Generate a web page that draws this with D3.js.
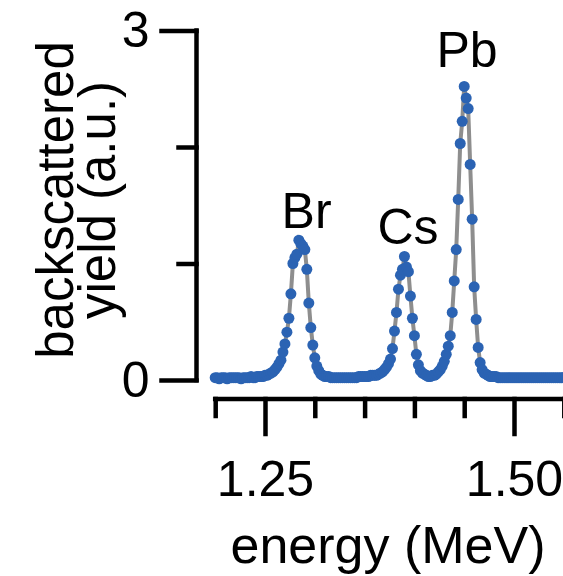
<!DOCTYPE html>
<html>
<head>
<meta charset="utf-8">
<script src="https://cdn.jsdelivr.net/npm/d3@7"></script>
<style>
  body { margin: 0; background: #fff; }
  text { font-family: "Liberation Sans", Arial, Helvetica, sans-serif; fill: #000; }
</style>
</head>
<body>
<svg id="rbs" width="563" height="576"></svg>
<script>
// measured spectrum (energy in MeV, yield in a.u.)
const energy = [
  1.200,1.202,1.204,1.206,1.208,1.210,1.212,1.214,1.216,1.218,
  1.220,1.222,1.224,1.226,1.228,1.230,1.232,1.234,1.236,1.238,
  1.240,1.242,1.244,1.246,1.248,1.250,1.252,1.254,1.256,1.258,
  1.260,1.262,1.264,1.266,1.268,1.270,1.272,1.274,1.276,1.278,
  1.280,1.282,1.284,1.286,1.288,1.290,1.292,1.294,1.296,1.298,
  1.300,1.302,1.304,1.306,1.308,1.310,1.312,1.314,1.316,1.318,
  1.320,1.322,1.324,1.326,1.328,1.330,1.332,1.334,1.336,1.338,
  1.340,1.342,1.344,1.346,1.348,1.350,1.352,1.354,1.356,1.358,
  1.360,1.362,1.364,1.366,1.368,1.370,1.372,1.374,1.376,1.378,
  1.380,1.382,1.384,1.386,1.388,1.390,1.392,1.394,1.396,1.398,
  1.400,1.402,1.404,1.406,1.408,1.410,1.412,1.414,1.416,1.418,
  1.420,1.422,1.424,1.426,1.428,1.430,1.432,1.434,1.436,1.438,
  1.440,1.442,1.444,1.446,1.448,1.450,1.452,1.454,1.456,1.458,
  1.460,1.462,1.464,1.466,1.468,1.470,1.472,1.474,1.476,1.478,
  1.480,1.482,1.484,1.486,1.488,1.490,1.492,1.494,1.496,1.498,
  1.500,1.502,1.504,1.506,1.508,1.510,1.512,1.514,1.516,1.518,
  1.520,1.522,1.524,1.526,1.528,1.530,1.532,1.534,1.536,1.538,
  1.540,1.542,1.544,1.546,1.548,1.550
];
const yieldAU = [
  0.02,0.02,0.01,0.02,0.02,0.02,0.01,0.02,0.02,0.02,
  0.02,0.02,0.02,0.01,0.02,0.02,0.02,0.02,0.03,0.02,
  0.02,0.03,0.03,0.03,0.03,0.04,0.04,0.05,0.06,0.07,
  0.09,0.11,0.14,0.17,0.24,0.31,0.41,0.53,0.74,1.00,
  1.05,1.08,1.20,1.17,1.15,1.12,0.95,0.66,0.45,0.30,
  0.19,0.12,0.08,0.05,0.04,0.03,0.03,0.03,0.02,0.02,
  0.02,0.02,0.02,0.02,0.02,0.02,0.02,0.02,0.02,0.02,
  0.02,0.02,0.03,0.03,0.03,0.03,0.03,0.03,0.04,0.04,
  0.04,0.04,0.05,0.06,0.07,0.09,0.11,0.14,0.18,0.27,
  0.42,0.58,0.78,0.90,0.95,1.06,0.97,0.93,0.72,0.53,
  0.38,0.22,0.13,0.08,0.06,0.05,0.04,0.03,0.03,0.04,
  0.04,0.05,0.07,0.09,0.12,0.16,0.22,0.29,0.38,0.58,
  0.85,1.12,1.55,2.03,2.22,2.52,2.42,2.33,1.85,1.38,
  0.80,0.52,0.28,0.15,0.09,0.06,0.05,0.04,0.03,0.03,
  0.03,0.03,0.02,0.02,0.02,0.02,0.02,0.02,0.02,0.02,
  0.02,0.02,0.02,0.02,0.02,0.02,0.02,0.02,0.02,0.02,
  0.02,0.02,0.02,0.02,0.02,0.02,0.02,0.02,0.02,0.02,
  0.02,0.02,0.02,0.02,0.02,0.02
];

// peak labels
const peakNames = ["Br", "Cs", "Pb"];
const peakEnergy = [1.2917, 1.3936, 1.4528];
const peakYield = [1.305, 1.167, 2.687];

const yMajor = [0, 3];
const yMinor = [1, 2];
const xMajor = [1.25, 1.50];
const xMinor = [1.20, 1.30, 1.35, 1.40, 1.45, 1.55];

const svg = d3.select("#rbs");

const x = d3.scaleLinear().domain([1.20, 1.55]).range([215.2, 563.8]);
const y = d3.scaleLinear().domain([0, 3]).range([380, 30.5]);

const data = energy.map((e, i) => ({e: e, v: yieldAU[i]}));

// gray connecting line
svg.append("path")
  .datum(data)
  .attr("fill", "none")
  .attr("stroke", "#8e8e8e")
  .attr("stroke-width", 4)
  .attr("d", d3.line().x(d => x(d.e)).y(d => y(d.v)));

// data points
svg.append("g")
  .selectAll("circle")
  .data(data)
  .join("circle")
  .attr("cx", d => x(d.e))
  .attr("cy", d => y(d.v))
  .attr("r", 5.5)
  .attr("fill", "#2b63b3");

//
// y axis
//
const yAxisX = 196.5;
const yAx = svg.append("g").attr("transform", `translate(${yAxisX},0)`);
yAx.append("g")
  .call(d3.axisLeft(y).tickValues(yMajor).tickSize(35).tickSizeOuter(0).tickPadding(12).tickFormat(d3.format("d")))
  .call(g => g.select(".domain").remove());
yAx.append("g")
  .call(d3.axisLeft(y).tickValues(yMinor).tickSize(18).tickSizeOuter(0).tickFormat(""))
  .call(g => g.select(".domain").remove());
yAx.append("line")
  .attr("class", "domainline")
  .attr("y1", y(3)).attr("y2", y(0));

//
// x axis
//
const xAxisY = 399;
const xAx = svg.append("g").attr("transform", `translate(0,${xAxisY})`);
xAx.append("g")
  .call(d3.axisBottom(x).tickValues(xMajor).tickSize(35).tickSizeOuter(0).tickFormat(d3.format(".2f")))
  .call(g => g.select(".domain").remove())
  .call(g => g.selectAll(".tick text").attr("y", 97).attr("dy", null));
xAx.append("g")
  .call(d3.axisBottom(x).tickValues(xMinor).tickSize(17).tickSizeOuter(0).tickFormat(""))
  .call(g => g.select(".domain").remove());
xAx.append("line")
  .attr("class", "domainline")
  .attr("x1", x(1.20)).attr("x2", x(1.55));

svg.selectAll(".tick line, .domainline")
  .attr("stroke", "#000")
  .attr("stroke-width", 4.5)
  .attr("stroke-linecap", "square");
svg.selectAll(".tick text")
  .attr("fill", "#000")
  .style("font-size", "50px")
  .style("font-family", "'Liberation Sans', Arial, sans-serif");

// axis titles
svg.append("text")
  .attr("x", x(1.3735))
  .attr("y", 563)
  .attr("text-anchor", "middle")
  .style("font-size", "52px")
  .text("energy (MeV)");

const yTitle = svg.append("text")
  .attr("transform", "translate(0,200) rotate(-90)")
  .attr("text-anchor", "middle")
  .style("font-size", "51px");
yTitle.append("tspan").attr("x", 0).attr("y", 73).text("backscattered");
yTitle.append("tspan").attr("x", 0).attr("y", 115).text("yield (a.u.)");

// peak labels
svg.append("g")
  .selectAll("text")
  .data(peakNames)
  .join("text")
  .attr("x", (d, i) => x(peakEnergy[i]))
  .attr("y", (d, i) => y(peakYield[i]))
  .attr("text-anchor", "middle")
  .style("font-size", "50px")
  .text(d => d);
</script>
</body>
</html>
